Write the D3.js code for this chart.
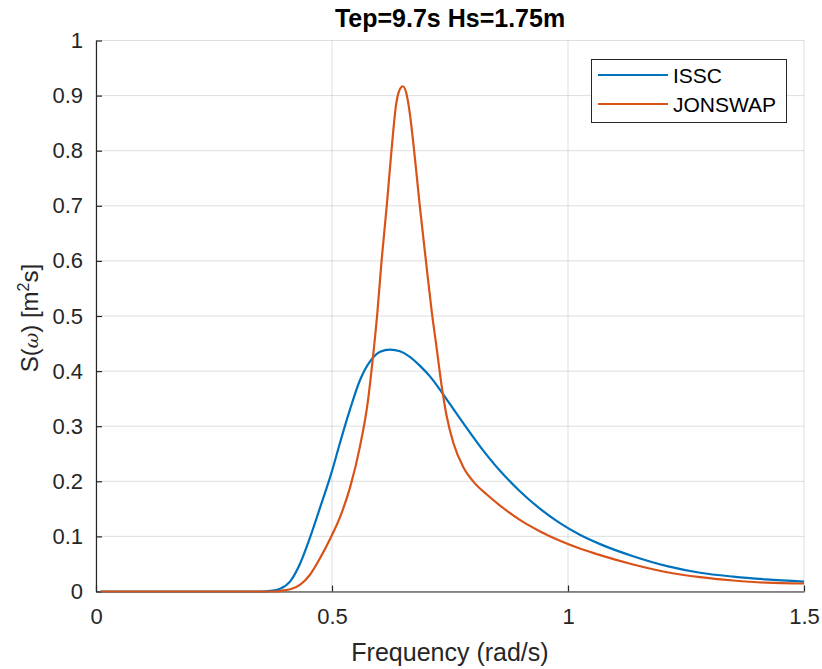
<!DOCTYPE html>
<html>
<head>
<meta charset="utf-8">
<script src="https://cdn.jsdelivr.net/npm/d3@7"></script>
<style>
  html, body { margin: 0; padding: 0; background: #fff; }
  svg { display: block; font-family: "Liberation Sans", Arial, Helvetica, sans-serif; }
</style>
</head>
<body>
<svg id="chart" width="822" height="669"></svg>
<script>
// ---- data ----
const titleText = "Tep=9.7s Hs=1.75m";
const seriesNames = ["ISSC", "JONSWAP"];
const xTicks = [0, 0.5, 1, 1.5];
const xTickLabels = ["0", "0.5", "1", "1.5"];
const yTicks = [0, 0.1, 0.2, 0.3, 0.4, 0.5, 0.6, 0.7, 0.8, 0.9, 1];
const yTickLabels = ["0", "0.1", "0.2", "0.3", "0.4", "0.5", "0.6", "0.7", "0.8", "0.9", "1"];

const isscOmega = [0.01, 0.2, 0.35, 0.369, 0.39, 0.411, 0.432, 0.453, 0.475, 0.498, 0.517, 0.538, 0.559, 0.581, 0.602, 0.623, 0.644, 0.665, 0.686, 0.708, 0.729, 0.750, 0.771, 0.814, 0.856, 0.898, 0.941, 0.983, 1.025, 1.068, 1.138, 1.21, 1.28, 1.35, 1.42, 1.5];
const isscS     = [0, 0, 0, 0.001, 0.005, 0.018, 0.050, 0.097, 0.153, 0.213, 0.270, 0.330, 0.383, 0.418, 0.435, 0.439, 0.436, 0.426, 0.410, 0.390, 0.366, 0.340, 0.314, 0.263, 0.219, 0.182, 0.150, 0.124, 0.103, 0.086, 0.064, 0.046, 0.034, 0.027, 0.022, 0.018];

const jonswapOmega = [0.01, 0.2, 0.38, 0.396, 0.415, 0.432, 0.453, 0.475, 0.498, 0.517, 0.538, 0.559, 0.576, 0.587, 0.596, 0.605, 0.616, 0.626, 0.636, 0.644, 0.650, 0.657, 0.665, 0.674, 0.686, 0.699, 0.711, 0.722, 0.732, 0.743, 0.757, 0.778, 0.800, 0.828, 0.856, 0.898, 0.941, 0.983, 1.025, 1.068, 1.138, 1.21, 1.28, 1.35, 1.42, 1.5];
const jonswapS     = [0, 0, 0, 0.002, 0.005, 0.012, 0.030, 0.061, 0.099, 0.135, 0.188, 0.262, 0.345, 0.427, 0.505, 0.600, 0.700, 0.800, 0.885, 0.912, 0.917, 0.906, 0.867, 0.800, 0.700, 0.600, 0.510, 0.440, 0.375, 0.318, 0.270, 0.226, 0.199, 0.176, 0.156, 0.130, 0.109, 0.092, 0.078, 0.066, 0.049, 0.035, 0.026, 0.020, 0.016, 0.0145];

const colors = ["#0072BD", "#D95319"];

// ---- layout ----
const svg = d3.select("#chart");
const pLeft = 96, pRight = 804, pTop = 40.5, pBottom = 591.5;
const x = d3.scaleLinear().domain([0, 1.5]).range([pLeft, pRight]);
const y = d3.scaleLinear().domain([0, 1]).range([pBottom, pTop]);
const axisColor = "#262626";

// grid
const grid = svg.append("g");
xTicks.forEach(t => {
  grid.append("line").attr("x1", x(t)).attr("x2", x(t)).attr("y1", pTop).attr("y2", pBottom)
    .attr("stroke", "#262626").attr("stroke-opacity", 0.15).attr("stroke-width", 1);
});
yTicks.forEach(t => {
  grid.append("line").attr("x1", pLeft).attr("x2", pRight).attr("y1", y(t)).attr("y2", y(t))
    .attr("stroke", "#262626").attr("stroke-opacity", 0.15).attr("stroke-width", 1);
});

// axes (MATLAB style: ticks inside)
const xAxis = d3.axisBottom(x).tickValues(xTicks).tickFormat((d, i) => xTickLabels[i])
  .tickSizeInner(-6).tickSizeOuter(0).tickPadding(17);
const gx = svg.append("g").attr("transform", `translate(0,${pBottom})`).call(xAxis);
const yAxis = d3.axisLeft(y).tickValues(yTicks).tickFormat((d, i) => yTickLabels[i])
  .tickSizeInner(-6).tickSizeOuter(0).tickPadding(13);
const gy = svg.append("g").attr("transform", `translate(${pLeft},0)`).call(yAxis);
[gx, gy].forEach(g => {
  g.select(".domain").attr("stroke", axisColor).attr("stroke-width", 1.2);
  g.selectAll(".tick line").attr("stroke", axisColor).attr("stroke-width", 1.2);
  g.selectAll(".tick text").attr("fill", axisColor).style("font-size", "22px")
    .style("font-family", "'Liberation Sans', Arial, sans-serif");
});

// lines
const line = d3.line().x(d => x(d[0])).y(d => y(d[1])).curve(d3.curveMonotoneX);
svg.append("clipPath").attr("id", "clip").append("rect")
  .attr("x", pLeft).attr("y", pTop - 2).attr("width", pRight - pLeft).attr("height", pBottom - pTop + 4);
const series = [
  d3.zip(isscOmega, isscS),
  d3.zip(jonswapOmega, jonswapS)
];
series.forEach((s, i) => {
  svg.append("path").datum(s).attr("d", line).attr("fill", "none")
    .attr("stroke", colors[i]).attr("stroke-width", 2.2).attr("stroke-linejoin", "round")
    .attr("clip-path", "url(#clip)");
});

// title
svg.append("text").attr("x", (pLeft + pRight) / 2).attr("y", 27).attr("text-anchor", "middle")
  .attr("fill", "#000").style("font-size", "25px").style("font-weight", "bold")
  .text(titleText);

// x label
svg.append("text").attr("x", (pLeft + pRight) / 2).attr("y", 661).attr("text-anchor", "middle")
  .attr("fill", axisColor).style("font-size", "25px").text("Frequency (rad/s)");

// y label
const yl = svg.append("text").attr("transform", "translate(38,318) rotate(-90)")
  .attr("text-anchor", "middle").attr("fill", axisColor).style("font-size", "24px");
yl.append("tspan").text("S(");
yl.append("tspan").style("font-style", "italic").style("font-family", "'DejaVu Serif', serif").style("font-size", "19px").text("ω");
yl.append("tspan").text(") [m");
yl.append("tspan").attr("dy", -9).style("font-size", "16px").text("2");
yl.append("tspan").attr("dy", 9).text("s]");

// legend
const lg = svg.append("g");
lg.append("rect").attr("x", 591.5).attr("y", 59.5).attr("width", 195).attr("height", 63)
  .attr("fill", "#fff").attr("stroke", axisColor).attr("stroke-width", 1);
seriesNames.forEach((n, i) => {
  const yy = 75 + i * 29;
  lg.append("line").attr("x1", 598).attr("x2", 668).attr("y1", yy).attr("y2", yy)
    .attr("stroke", colors[i]).attr("stroke-width", 2.2);
  lg.append("text").attr("x", 673).attr("y", yy + 8).attr("fill", "#000")
    .style("font-size", "21px").text(n);
});
</script>
</body>
</html>
